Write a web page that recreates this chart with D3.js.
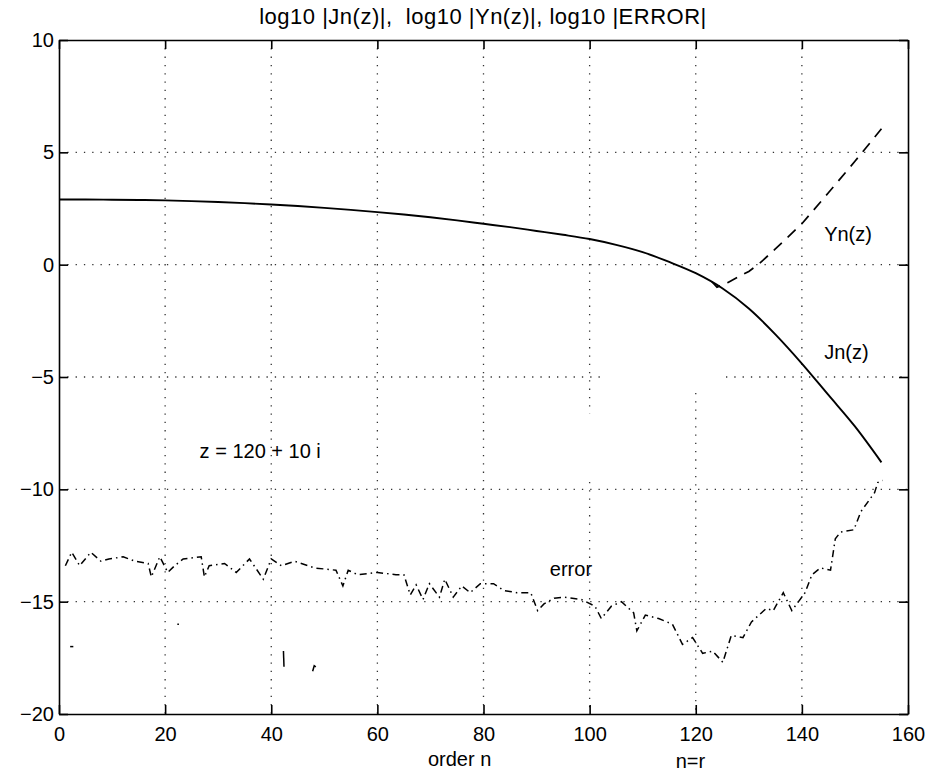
<!DOCTYPE html>
<html>
<head>
<meta charset="utf-8">
<script src="https://cdn.jsdelivr.net/npm/d3@7"></script>
<style>
  body { margin: 0; background: #fff; }
  svg { display: block; font-family: "Liberation Sans", Arial, Helvetica, sans-serif; }
  .axis path, .axis line { stroke: #000; }
  .axis text { font-size: 20px; fill: #000; }
</style>
</head>
<body>
<svg id="chart"></svg>
<script>
// order n and log10 values
const jnN = [0, 5, 10, 15, 20, 25, 30, 35, 40, 45, 50, 55, 60, 65, 70, 75, 80, 85, 90, 95, 100, 105, 110, 115, 120, 125, 130, 135, 140, 145, 150, 155];
const jnV = [2.90, 2.90, 2.89, 2.88, 2.86, 2.83, 2.79, 2.74, 2.68, 2.61, 2.53, 2.44, 2.34, 2.23, 2.11, 1.97, 1.82, 1.67, 1.50, 1.33, 1.14, 0.88, 0.56, 0.12, -0.38, -1.05, -1.95, -3.1, -4.4, -5.8, -7.2, -8.8];

const ynN = [123, 124, 126, 128, 130, 132, 135, 140, 145, 150, 155];
const ynV = [-0.75, -1.0, -0.8, -0.55, -0.3, 0.05, 0.7, 1.82, 3.2, 4.6, 6.05];

const errN = [1.2, 2.4, 3.9, 6, 7.9, 9.4, 12.1, 14.3, 16.8, 17.4, 19, 20.5, 21.8, 23.4, 26.8, 27.4, 28.3, 31.2, 33.4, 35.9, 38.5, 40, 41.9, 44.4, 48.2, 52.2, 53.5, 54.5, 56.3, 60, 63.5, 65, 66.2, 67.3, 68.6, 69.8, 71.7, 72.7, 74.3, 75.9, 77.5, 79.4, 81.9, 83.8, 86.3, 88.9, 90.2, 91.4, 93.3, 95.2, 98.4, 101, 102.2, 104.1, 106, 108.3, 108.9, 110.5, 113, 115.6, 117.5, 119.4, 121.3, 123.2, 125.1, 126.7, 128.9, 130.5, 133.3, 134.6, 136.5, 138.1, 140.6, 141.9, 143.5, 145.4, 146.3, 147.3, 149.8, 151.1, 153.7, 154.3, 155.2];
const errV = [-13.4, -12.8, -13.4, -12.8, -13.2, -13.1, -13.0, -13.2, -13.3, -13.9, -13.0, -13.7, -13.4, -13.1, -13.0, -13.9, -13.4, -13.3, -13.7, -13.1, -14.0, -13.1, -13.4, -13.2, -13.5, -13.6, -14.3, -13.6, -13.8, -13.7, -13.8, -13.8, -14.7, -14.25, -14.9, -14.2, -14.8, -14.0, -14.8, -14.3, -14.6, -14.2, -14.2, -14.5, -14.6, -14.6, -15.4, -15.1, -14.85, -14.8, -14.9, -15.2, -15.75, -15.2, -15.0, -15.5, -16.3, -15.6, -15.75, -16.0, -16.9, -16.6, -17.3, -17.2, -17.7, -16.5, -16.6, -15.9, -15.3, -15.4, -14.6, -15.4, -14.6, -13.8, -13.5, -13.6, -12.2, -11.9, -11.8, -11.0, -10.15, -9.7, -9.6];

// loose bits of the error curve far below the main trace
const errBitsN = [[2.1, 2.7], [22.3, 22.6], [42.3, 42.4], [47.8, 48.1, 48.4]];
const errBitsV = [[-17.0, -17.0], [-16.0, -16.0], [-17.2, -17.9], [-18.1, -17.85, -17.9]];

const xTicks = [0, 20, 40, 60, 80, 100, 120, 140, 160];
const yTicks = [-20, -15, -10, -5, 0, 5, 10];

// pieces of grid missing in the scan: [axis, value, from, to]
const gridGaps = [['y', -5, 103.2, 125.7], ['x', 100, -6.64, -9.67], ['x', 120, 0.08, -5.71]];

const width = 929;
const height = 772;
const margin = { top: 40, right: 21, bottom: 58, left: 59 };

const x = d3.scaleLinear().domain([0, 160]).range([margin.left, width - margin.right]);
const y = d3.scaleLinear().domain([-20, 10]).range([height - margin.bottom, margin.top]);

const svg = d3.select('#chart')
  .attr('width', width)
  .attr('height', height);

// dotted grid, split where the scan has holes
const gridSegs = [];
xTicks.slice(1, -1).forEach((t) => {
  let parts = [[10, -20]];
  gridGaps.filter(g => g[0] === 'x' && g[1] === t).forEach((g) => {
    parts = [[10, g[2]], [g[3], -20]];
  });
  parts.forEach(p => gridSegs.push([x(t), y(p[0]), x(t), y(p[1])]));
});
yTicks.slice(1, -1).forEach((t) => {
  let parts = [[0, 160]];
  gridGaps.filter(g => g[0] === 'y' && g[1] === t).forEach((g) => {
    parts = [[0, g[2]], [g[3], 160]];
  });
  parts.forEach(p => gridSegs.push([x(p[0]), y(t), x(p[1]), y(t)]));
});

svg.append('g')
  .selectAll('line')
  .data(gridSegs)
  .enter().append('line')
  .attr('x1', d => d[0])
  .attr('y1', d => d[1])
  .attr('x2', d => d[2])
  .attr('y2', d => d[3])
  .attr('stroke', '#333')
  .attr('stroke-width', 1.3)
  .attr('stroke-dasharray', '1.3,7');

const tick = 9;

svg.append('g')
  .attr('class', 'axis')
  .attr('transform', `translate(0,${y(-20)})`)
  .call(d3.axisBottom(x).tickValues(xTicks).tickSize(-tick).tickSizeOuter(0).tickPadding(13).tickFormat(d3.format('d')))
  .call(g => g.selectAll('path,line').attr('stroke-width', 1.6));

svg.append('g')
  .attr('class', 'axis')
  .attr('transform', `translate(${x(0)},0)`)
  .call(d3.axisLeft(y).tickValues(yTicks).tickSize(-tick).tickSizeOuter(0).tickPadding(5))
  .call(g => g.selectAll('path,line').attr('stroke-width', 1.6));

svg.append('g')
  .attr('class', 'axis')
  .attr('transform', `translate(0,${y(10)})`)
  .call(d3.axisTop(x).tickValues(xTicks).tickSize(-tick).tickSizeOuter(0).tickFormat(''))
  .call(g => g.selectAll('path,line').attr('stroke-width', 1.6));

svg.append('g')
  .attr('class', 'axis')
  .attr('transform', `translate(${x(160)},0)`)
  .call(d3.axisRight(y).tickValues(yTicks).tickSize(-tick).tickSizeOuter(0).tickFormat(''))
  .call(g => g.selectAll('path,line').attr('stroke-width', 1.6));

const line = d3.line()
  .x(d => x(d[0]))
  .y(d => y(d[1]));

svg.append('path')
  .datum(d3.zip(jnN, jnV))
  .attr('fill', 'none')
  .attr('stroke', '#000')
  .attr('stroke-width', 1.9)
  .attr('d', line.curve(d3.curveMonotoneX));

svg.append('path')
  .datum(d3.zip(ynN, ynV))
  .attr('fill', 'none')
  .attr('stroke', '#000')
  .attr('stroke-width', 1.7)
  .attr('stroke-dasharray', '11,8')
  .attr('d', line.curve(d3.curveLinear));

svg.append('path')
  .datum(d3.zip(errN, errV))
  .attr('fill', 'none')
  .attr('stroke', '#000')
  .attr('stroke-width', 1.5)
  .attr('stroke-dasharray', '7,4,1.5,4')
  .attr('d', line);

svg.append('g')
  .selectAll('path')
  .data(errBitsN.map((ns, i) => d3.zip(ns, errBitsV[i])))
  .enter().append('path')
  .attr('fill', 'none')
  .attr('stroke', '#000')
  .attr('stroke-width', 1.5)
  .attr('d', line);

// texts
const label = (tx, ty, s, size, anchor) => svg.append('text')
  .attr('x', tx)
  .attr('y', ty)
  .attr('font-size', size)
  .attr('text-anchor', anchor || 'start')
  .attr('fill', '#000')
  .text(s);

label(483, 24, 'log10 |Jn(z)|,  log10 |Yn(z)|, log10 |ERROR|', 22, 'middle')
  .attr('letter-spacing', 0.5)
  .style('white-space', 'pre');
label(x(144.2), y(1.05), 'Yn(z)', 20);
label(x(144.2), y(-4.2), 'Jn(z)', 20);
label(x(26.5), y(-8.6), 'z = 120 + 10 i', 20);
label(x(92.5), y(-13.85), 'error', 20);
label(x(75.5), height - 6, 'order n', 20, 'middle');
label(x(119), height - 4, 'n=r', 20, 'middle');
</script>
</body>
</html>
